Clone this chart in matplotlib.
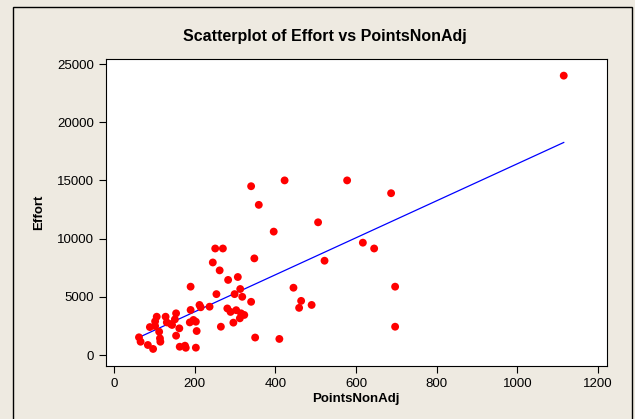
import numpy as np
import matplotlib; matplotlib.use('Agg')
import matplotlib.pyplot as plt
from matplotlib.patches import Rectangle

# data
points_non_adj = [1115, 340, 423, 578, 687, 359, 506, 396, 617, 645, 522, 348,
                  251, 270, 245, 262, 283, 307, 313, 254, 299, 318, 340, 445,
                  464, 459, 490, 697, 697, 190, 350, 410, 212, 215, 237, 281,
                  289, 303, 312, 315, 323, 296, 265,
                  62, 66, 84, 97, 89, 102, 106, 102, 114, 115, 112, 128, 131,
                  141, 154, 154, 163, 151, 144, 197, 203, 188, 162, 205, 176,
                  178, 203, 190]
effort = [24000, 14500, 15000, 15000, 13900, 12900, 11400, 10600, 9650, 9150,
          8100, 8300, 9150, 9150, 7950, 7270, 6450, 6700, 5670, 5230, 5230,
          5000, 4570, 5780, 4650, 4050, 4300, 5870, 2430, 5870, 1500, 1380,
          4300, 4100, 4150, 4000, 3700, 3850, 3150, 3580, 3440, 2780, 2430,
          1520, 1140, 860, 520, 2400, 2490, 3290, 2890, 1430, 1140, 2000, 3290,
          2800, 2660, 3580, 1660, 710, 3060, 2580, 3010, 2860, 2800, 2290, 2060,
          800, 620, 630, 3870]
fit_intercept = 530
fit_slope = 15.9

BG = '#EEEAE1'
plt.rcParams['font.family'] = ['Liberation Sans', 'DejaVu Sans']

fig = plt.figure(figsize=(6.35, 4.19), dpi=100, facecolor=BG)
W, H = 635, 419
ax = fig.add_axes([105.5 / W, 1 - 366 / H, 501 / W, 307 / H])
fig.patches.append(Rectangle((13 / W, -0.1), 619 / W, 1.1 - 7 / H,
                             transform=fig.transFigure, fill=False,
                             edgecolor='black', linewidth=1.0))

ax.scatter(points_non_adj, effort, s=32, color='#FF0000', edgecolors='none', zorder=3)
xs = np.array([min(points_non_adj), max(points_non_adj)])
ax.plot(xs, fit_intercept + fit_slope * xs, color='#0000FF', linewidth=0.9, zorder=2)

ax.set_xlim(-21, 1221)
ax.set_ylim(-945, 25430)
ax.set_xticks([0, 200, 400, 600, 800, 1000, 1200])
ax.set_yticks([0, 5000, 10000, 15000, 20000, 25000])
ax.tick_params(direction='out', length=5, width=0.8, labelsize=9.5)
for s in ax.spines.values():
    s.set_linewidth(0.8)

ax.set_xlabel('PointsNonAdj', fontsize=9.5, fontweight='bold', labelpad=2)
ax.set_ylabel('Effort', fontsize=9.5, fontweight='bold', labelpad=8)
fig.text(325 / W, 1 - 37 / H, 'Scatterplot of Effort vs PointsNonAdj',
         ha='center', va='center', fontsize=11.5, fontweight='bold')

fig.savefig('out.png', dpi=100, facecolor=BG)
